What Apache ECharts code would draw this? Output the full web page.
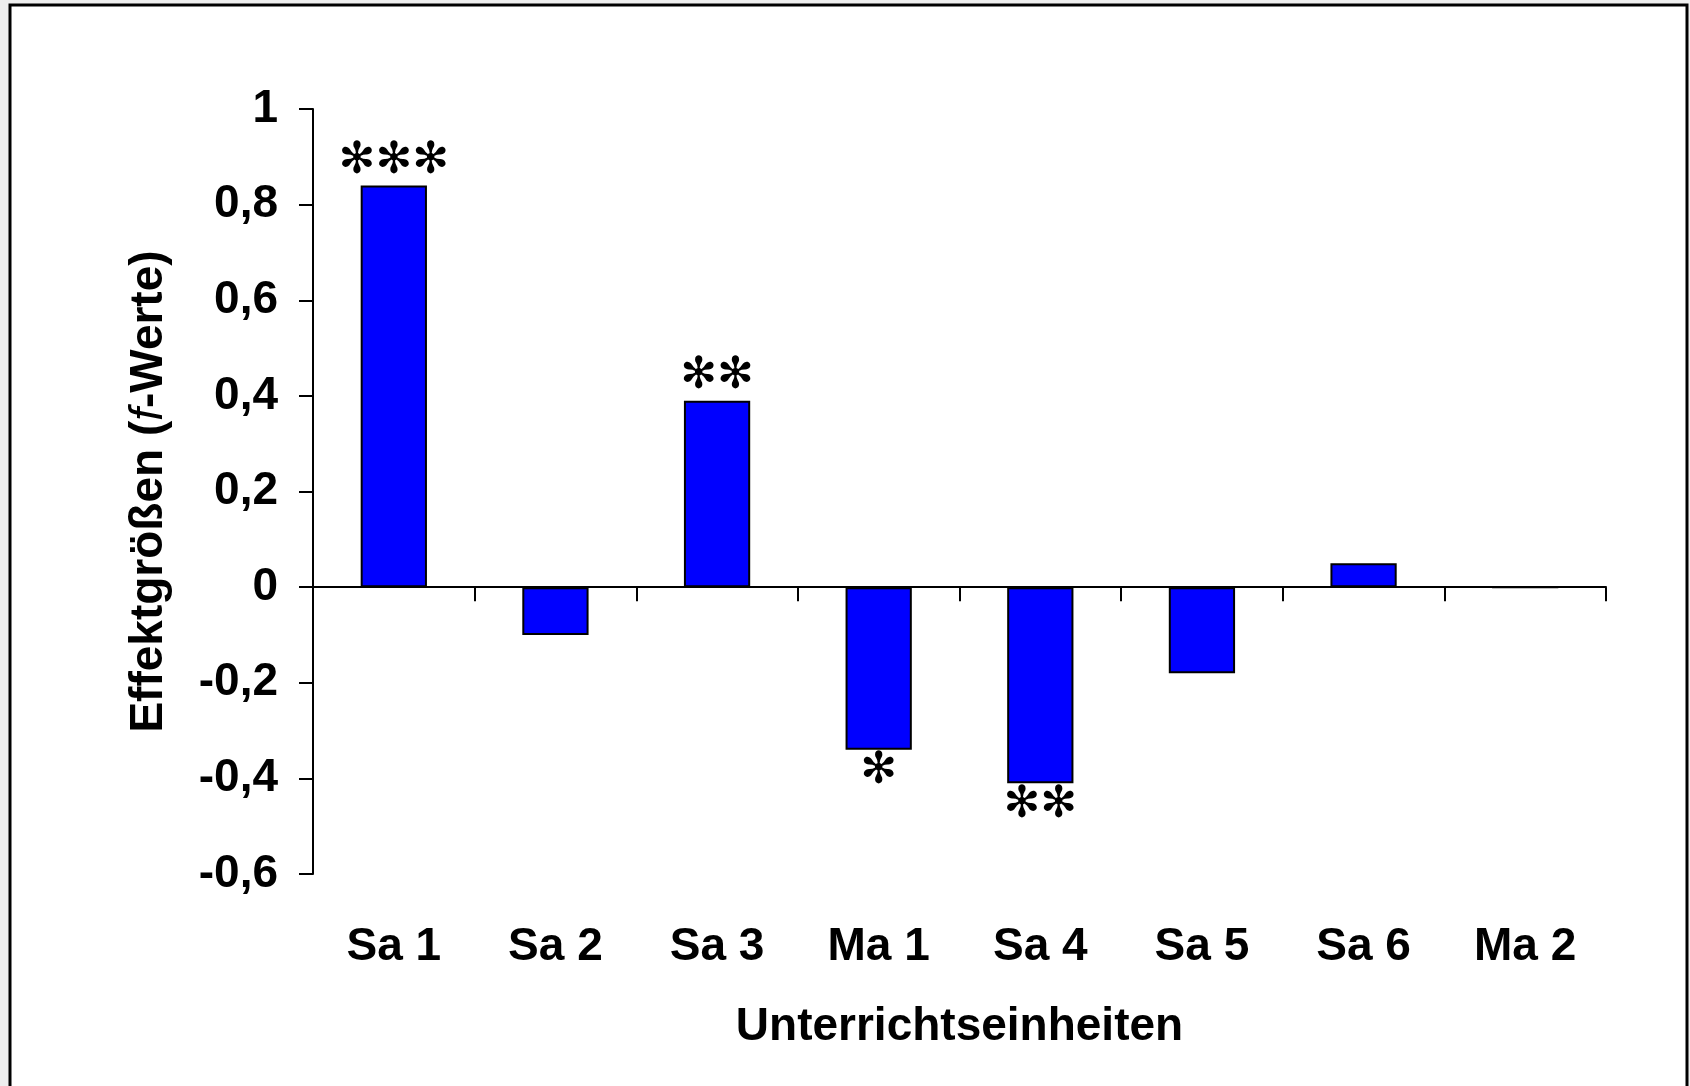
<!DOCTYPE html>
<html>
<head>
<meta charset="utf-8">
<title>Effektgrößen</title>
<script src="https://cdn.jsdelivr.net/npm/echarts@6/dist/echarts.min.js"></script>
<style>
  html, body { margin: 0; padding: 0; background: #eeeeee; }
  #chart { width: 1690px; height: 1086px; }
</style>
</head>
<body>
<div id="chart"></div>
<script>
// Unterrichtseinheiten and their effect sizes (f values)
const categories = ['Sa 1', 'Sa 2', 'Sa 3', 'Ma 1', 'Sa 4', 'Sa 5', 'Sa 6', 'Ma 2'];
const effectSizes = [0.84, -0.10, 0.39, -0.34, -0.41, -0.18, 0.05, 0];
// significance markers per unit
const significance = ['***', '', '**', '*', '**', '', '', ''];
// value axis range
const yMin = -0.6;
const yMax = 1;
const yStep = 0.2;

const FONT = '"Liberation Sans", Arial, sans-serif';
const TEXT_SIZE = 46;

const chart = echarts.init(document.getElementById('chart'), null, { renderer: 'canvas' });

const barData = effectSizes.map((v, i) => {
  const sig = significance[i];
  return {
    value: v,
    label: {
      show: sig.length > 0,
      position: v < 0 ? 'bottom' : 'top',
      distance: v < 0 ? 0 : 2,
      formatter: sig.replace(/\*/g, '\u273B')
    }
  };
});

const fmt = v => {
  const r = Math.round(v * 10) / 10;
  return (r === 0 ? '0' : String(r)).replace('.', ',');
};

chart.setOption({
  backgroundColor: '#eeeeee',
  animation: false,
  graphic: [{
    type: 'rect',
    z: -10,
    shape: { x: 10, y: 5, width: 1677, height: 1110 },
    style: { fill: '#ffffff', stroke: '#000000', lineWidth: 3 }
  }],
  grid: { left: 313, right: 84, top: 109, bottom: 212, containLabel: false },
  xAxis: [{
    type: 'category',
    data: categories,
    axisLine: { onZero: true, lineStyle: { color: '#000', width: 2 } },
    axisTick: { show: true, length: 14, inside: false, lineStyle: { color: '#000', width: 2 } },
    axisLabel: { show: false },
    splitLine: { show: false }
  }, {
    type: 'category',
    data: categories,
    position: 'bottom',
    axisLine: { show: false, onZero: false },
    axisTick: { show: false },
    axisLabel: {
      show: true, margin: 50, color: '#000',
      fontFamily: FONT, fontWeight: 'bold', fontSize: TEXT_SIZE
    },
    name: 'Unterrichtseinheiten',
    nameLocation: 'middle',
    nameGap: 130,
    nameTextStyle: { color: '#000', fontFamily: FONT, fontWeight: 'bold', fontSize: TEXT_SIZE }
  }],
  yAxis: {
    type: 'value',
    min: yMin,
    max: yMax,
    interval: yStep,
    axisLine: { show: true, onZero: false, lineStyle: { color: '#000', width: 2 } },
    axisTick: { show: true, length: 14, lineStyle: { color: '#000', width: 2 } },
    splitLine: { show: false },
    axisLabel: {
      margin: 35, color: '#000',
      fontFamily: FONT, fontWeight: 'bold', fontSize: TEXT_SIZE,
      formatter: fmt
    },
    name: '{b|Effektgrößen (}{i|f}{b|-Werte)}',
    nameLocation: 'middle',
    nameGap: 141,
    nameTextStyle: {
      rich: {
        b: { color: '#000', fontFamily: FONT, fontWeight: 'bold', fontSize: TEXT_SIZE },
        i: { color: '#000', fontFamily: FONT, fontStyle: 'italic', fontWeight: 'normal', fontSize: TEXT_SIZE }
      }
    }
  },
  series: [{
    type: 'bar',
    xAxisIndex: 0,
    data: barData,
    barCategoryGap: '59%',
    itemStyle: { color: '#0000ff', borderColor: '#000', borderWidth: 2 },
    label: {
      color: '#000',
      fontFamily: '"DejaVu Sans", sans-serif',
      fontSize: 44
    },
    emphasis: { disabled: true }
  }]
});
</script>
</body>
</html>
